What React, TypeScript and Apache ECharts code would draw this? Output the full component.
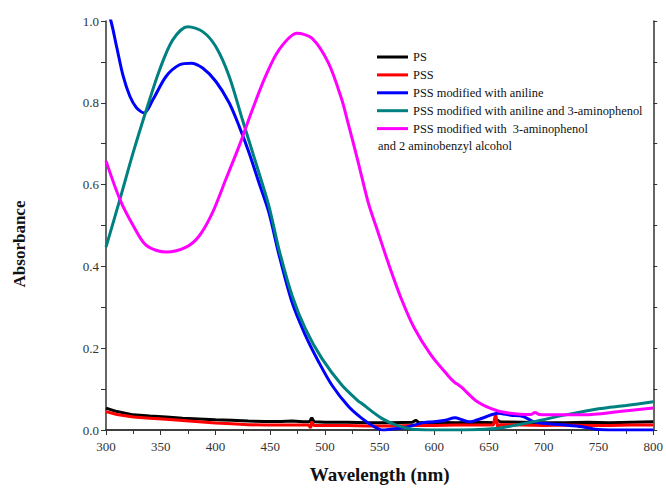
import React, { useEffect, useRef } from "react";
import * as echarts from "echarts";

const xTicks = [300, 350, 400, 450, 500, 550, 600, 650, 700, 750, 800];

const psWl = [300, 310, 325, 340, 355, 370, 385, 400, 415, 430, 445, 460, 470, 480, 486, 488, 490, 500, 520, 540, 560, 580, 583, 586, 600, 620, 640, 655, 657, 660, 680, 700, 720, 740, 760, 780, 800];
const psVal = [0.0535, 0.045, 0.037, 0.034, 0.032, 0.029, 0.027, 0.025, 0.024, 0.022, 0.021, 0.021, 0.022, 0.02, 0.02, 0.03, 0.02, 0.019, 0.019, 0.018, 0.018, 0.019, 0.024, 0.018, 0.019, 0.018, 0.019, 0.018, 0.025, 0.02, 0.019, 0.018, 0.018, 0.019, 0.018, 0.019, 0.02];

const pssWl = [300, 310, 325, 340, 355, 370, 385, 400, 415, 430, 445, 460, 475, 485, 487, 488, 490, 500, 520, 540, 560, 580, 600, 620, 640, 654, 656, 658, 660, 680, 700, 720, 740, 760, 780, 800];
const pssVal = [0.045, 0.038, 0.032, 0.029, 0.026, 0.023, 0.02, 0.017, 0.015, 0.013, 0.012, 0.012, 0.012, 0.012, 0.005, 0.02, 0.011, 0.011, 0.011, 0.01, 0.01, 0.011, 0.011, 0.012, 0.012, 0.012, 0.04, 0.005, 0.013, 0.012, 0.011, 0.012, 0.011, 0.011, 0.012, 0.012];

const anilineWl = [300, 304.5, 309.7, 315.7, 321.8, 327.8, 334.8, 342.9, 355, 367.2, 377.7, 388.3, 400.4, 412.5, 421.6, 430.7, 439.7, 448.8, 457.9, 470, 482.1, 494.2, 506.3, 521.4, 533.5, 545, 553, 560, 573, 590, 600, 610, 619, 625, 632, 645, 658, 670, 681, 691, 705, 720, 735, 747, 760, 780, 800];
const anilineVal = [1.03, 1.0, 0.937, 0.865, 0.816, 0.788, 0.775, 0.808, 0.865, 0.893, 0.897, 0.885, 0.852, 0.8, 0.743, 0.678, 0.605, 0.532, 0.43, 0.312, 0.232, 0.167, 0.11, 0.058, 0.029, 0.008, 0.0, 0.002, 0.006, 0.018, 0.02, 0.024, 0.03, 0.025, 0.02, 0.03, 0.041, 0.036, 0.033, 0.02, 0.015, 0.012, 0.008, 0.002, 0, 0, 0];

const anilineApWl = [300, 312.7, 324.8, 336.9, 349, 361, 374.7, 388.3, 400.4, 412.5, 424.6, 436.8, 448.8, 457.9, 470, 482.1, 497.2, 515.4, 530, 534, 551.6, 565, 580, 600, 620, 640, 660, 690, 720, 750, 775, 800];
const anilineApVal = [0.447, 0.564, 0.678, 0.783, 0.881, 0.954, 0.986, 0.974, 0.937, 0.865, 0.759, 0.654, 0.548, 0.443, 0.329, 0.248, 0.175, 0.11, 0.072, 0.064, 0.029, 0.012, 0.002, 0, 0, 0.001, 0.005, 0.02, 0.037, 0.052, 0.06, 0.069];

const apAbaWl = [300, 312.7, 324.8, 336.9, 355, 373.2, 385.3, 397.4, 409.5, 421.6, 433.7, 445.8, 457.9, 474.5, 488.1, 503.3, 515.4, 521, 530.5, 539.6, 548.6, 557.7, 569.8, 581.9, 597, 612.2, 619, 621.2, 625, 639.4, 657.5, 675.7, 688, 692, 696, 710, 737, 769, 800];
const apAbaVal = [0.658, 0.564, 0.5, 0.451, 0.435, 0.447, 0.475, 0.532, 0.613, 0.694, 0.783, 0.865, 0.929, 0.97, 0.958, 0.897, 0.808, 0.752, 0.654, 0.556, 0.483, 0.41, 0.321, 0.248, 0.183, 0.134, 0.115, 0.112, 0.104, 0.069, 0.047, 0.039, 0.038, 0.043, 0.038, 0.037, 0.037, 0.045, 0.054];

const seriesNames = [
  "PS",
  "PSS",
  "PSS modified with aniline",
  "PSS modified with aniline and 3-aminophenol",
  "PSS modified with  3-aminophenol",
];
const seriesColors = ["#000000", "#ff0000", "#0000ff", "#008080", "#ff00ff"];
const legendExtra = "and 2 aminobenzyl alcohol";
const xName = "Wavelength (nm)";
const yName = "Absorbance";

const zip = (a: number[], b: number[]) => a.map((x, i) => [x, b[i]]);

const FONT = "Liberation Serif";

export default function App() {
  const ref = useRef<HTMLDivElement>(null);
  useEffect(() => {
    if (!ref.current) return;
    const chart = echarts.init(ref.current, null, { renderer: "svg" });
    const data = [
      zip(psWl, psVal),
      zip(pssWl, pssVal),
      zip(anilineWl, anilineVal),
      zip(anilineApWl, anilineApVal),
      zip(apAbaWl, apAbaVal),
    ];
    const axisLine = { show: true, lineStyle: { color: "#333", width: 1.5 } };
    chart.setOption({
      animation: false,
      backgroundColor: "#fff",
      grid: { left: 106, right: 9, top: 21, bottom: 57 },
      legend: {
        orient: "vertical",
        left: 377,
        top: 50,
        padding: 0,
        icon: "rect",
        itemWidth: 31,
        itemHeight: 3,
        itemGap: 3.9,
        data: seriesNames,
        textStyle: { fontFamily: FONT, fontSize: 12.4, lineHeight: 14, color: "#111" },
      },
      graphic: [
        {
          type: "text",
          left: 378,
          top: 140,
          style: { text: legendExtra, font: `12.4px "${FONT}"`, fill: "#111" },
        },
        {
          type: "text",
          x: 19,
          y: 244,
          rotation: Math.PI / 2,
          style: {
            text: yName,
            font: `bold 17px "${FONT}"`,
            fill: "#111",
            align: "center",
            verticalAlign: "middle",
          },
        },
      ],
      xAxis: [
        {
          type: "value",
          min: 300,
          max: 800,
          interval: 50,
          name: xName,
          nameLocation: "middle",
          nameGap: 35,
          nameTextStyle: { fontFamily: FONT, fontSize: 19, fontWeight: "bold", color: "#111" },
          axisLine,
          axisTick: { show: true, length: 5, lineStyle: { color: "#333" } },
          minorTick: { show: true, splitNumber: 2, length: 4, lineStyle: { color: "#333" } },
          axisLabel: {
            fontFamily: FONT,
            fontSize: 13,
            color: "#333",
            margin: 10,
            formatter: (v: number) => (xTicks.includes(v) ? String(v) : ""),
          },
          splitLine: { show: false },
        },
        {
          type: "value",
          position: "top",
          min: 300,
          max: 800,
          interval: 50,
          axisLine,
          axisTick: { show: true, inside: true, length: 4, lineStyle: { color: "#333" } },
          minorTick: { show: true, splitNumber: 2, length: 4, lineStyle: { color: "#333" } },
          axisLabel: { show: false },
          splitLine: { show: false },
        },
      ],
      yAxis: [
        {
          type: "value",
          min: 0,
          max: 1,
          interval: 0.1,
          axisLine,
          axisTick: { show: true, length: 5, lineStyle: { color: "#333" } },
          axisLabel: {
            fontFamily: FONT,
            fontSize: 13,
            color: "#333",
            margin: 7,
            formatter: (v: number) => (Math.round(v * 10) % 2 === 0 ? v.toFixed(1) : ""),
          },
          splitLine: { show: false },
        },
        {
          type: "value",
          position: "right",
          min: 0,
          max: 1,
          interval: 0.1,
          axisLine,
          axisTick: { show: true, length: 4, lineStyle: { color: "#333" } },
          axisLabel: { show: false },
          splitLine: { show: false },
        },
      ],
      series: data.map((d, i) => ({
        name: seriesNames[i],
        type: "line",
        data: d,
        symbol: "none",
        smooth: i >= 2 ? 0.3 : false,
        clip: true,
        lineStyle: { color: seriesColors[i], width: 3 },
        itemStyle: { color: seriesColors[i] },
        z: 2 + i,
      })),
    });
    return () => chart.dispose();
  }, []);
  return (
    <div
      ref={ref}
      style={{ position: "fixed", left: 0, top: 0, width: 666, height: 489 }}
    />
  );
}
